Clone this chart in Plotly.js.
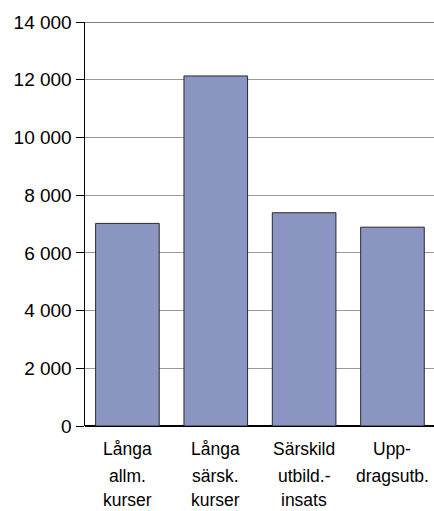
<!DOCTYPE html>
<html>
<head>
<meta charset="utf-8">
<script src="https://cdn.plot.ly/plotly-3.0.1.min.js"></script>
<style>html,body{margin:0;padding:0;background:#fff;}#chart{width:434px;height:511px;}</style>
</head>
<body>
<div id="chart"></div>
<script>
const categories = ["Långa allm. kurser", "Långa särsk. kurser", "Särskild utbild.-insats", "Uppdragsutb."];
const labelLines = [
  ["Långa", "allm.", "kurser"],
  ["Långa", "särsk.", "kurser"],
  ["Särskild", "utbild.-", "insats"],
  ["Upp-", "dragsutb.", ""]
];
const values = [7020, 12130, 7390, 6890];
const yTicks = [0, 2000, 4000, 6000, 8000, 10000, 12000, 14000];

const FONT = "Liberation Sans, Arial, Helvetica, sans-serif";
const annotations = [];
const lineShift = [-23, -49.5, -74];
categories.forEach((c, i) => {
  labelLines[i].forEach((t, j) => {
    if (!t) return;
    annotations.push({
      x: c, xref: "x", y: 0, yref: "paper",
      yanchor: "middle", xanchor: "center",
      yshift: lineShift[j],
      text: t, showarrow: false, borderpad: 0,
      font: {family: FONT, size: 17.5, color: "#000"}
    });
  });
});

const data = [{
  type: "bar",
  x: categories,
  y: values,
  marker: {color: "#8a95c2", line: {color: "#2a2a2a", width: 1}},
  hoverinfo: "skip"
}];

const layout = {
  width: 434, height: 511,
  margin: {l: 85, r: 0, t: 22, b: 85},
  paper_bgcolor: "#fff", plot_bgcolor: "#fff",
  showlegend: false,
  bargap: 0.28,
  separators: ". ",
  xaxis: {
    type: "category",
    range: [-0.48, 3.47],
    showticklabels: false,
    ticks: "",
    showgrid: false,
    showline: false,
    zeroline: false,
    fixedrange: true
  },
  yaxis: {
    range: [0, 14000],
    tickvals: yTicks,
    tickformat: ",",
    ticks: "outside",
    ticklen: 8,
    tickcolor: "#000",
    tickwidth: 1,
    showline: true,
    linecolor: "#000",
    linewidth: 1.5,
    showgrid: true,
    gridcolor: "#999999",
    gridwidth: 1,
    zeroline: true,
    zerolinecolor: "#000",
    zerolinewidth: 1.5,
    tickfont: {family: FONT, size: 19, color: "#000"},
    fixedrange: true
  },
  shapes: [{
    type: "line", xref: "paper", yref: "y",
    x0: 0, x1: 1, y0: 14000, y1: 14000,
    line: {color: "#000", width: 1}
  }],
  annotations: annotations
};

Plotly.newPlot("chart", data, layout, {displayModeBar: false, staticPlot: true});
</script>
</body>
</html>
